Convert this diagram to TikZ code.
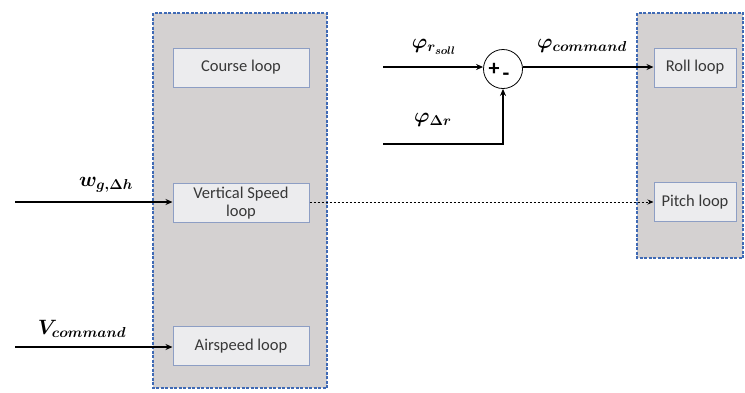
\documentclass[tikz,border=0pt]{standalone}
\usepackage{fontspec}
\usepackage{amsmath,bm}
\setsansfont{Carlito}
\usetikzlibrary{arrows.meta}
\definecolor{panelfill}{HTML}{D4D1D1}
\definecolor{panelborder}{HTML}{3F6AB5}
\definecolor{boxfill}{HTML}{ECECEE}
\definecolor{boxborder}{HTML}{8D9EC4}
\definecolor{txt}{HTML}{383838}
\tikzset{
  panel/.style={fill=panelfill, draw=panelborder, dash pattern=on 3pt off 1.5pt, line width=1.3pt},
  loopbox/.style={draw=boxborder, fill=boxfill, line width=1pt, minimum width=136pt, minimum height=39pt, font=\sffamily\fontsize{16.5}{18}\selectfont, text=txt, align=center, inner sep=1pt},
  smallbox/.style={loopbox, minimum width=82pt},
  sig/.style={line width=1.5pt, -{Stealth[length=7pt,width=6pt]}},
  lab/.style={font=\boldmath\fontsize{21}{22}\selectfont},
  signlab/.style={font=\sffamily\bfseries\fontsize{22}{22}\selectfont, inner sep=0pt}
}
\begin{document}
\begin{tikzpicture}[x=1pt,y=-1pt]
\useasboundingbox (0,0) rectangle (745,392);
\draw[panel] (153,13) rectangle (327,388);
\draw[panel] (637,13) rectangle (743,258);
\node[loopbox] (course) at (241,67.5) {Course loop};
\node[loopbox] (vs) at (241,203) {Vertical Speed\\loop};
\node[loopbox] (air) at (241,346) {Airspeed loop};
\node[smallbox] (roll) at (695,67.5) {Roll loop};
\node[smallbox] (pitch) at (695,202) {Pitch loop};
\node[draw, circle, minimum size=39pt, line width=0.8pt, fill=white, inner sep=0pt] (sum) at (503,69) {};
\node[signlab] (plus) at (494,69) {+};
\node[signlab] (minus) at (506,77) {-};
\coordinate (rin) at (383,67);
\coordinate (din) at (383,144);
\coordinate (wg) at (15,202);
\coordinate (vin) at (15,347);
\draw[sig] (rin) -- (rin -| sum.west);
\draw[sig] (din) -| (sum.south);
\draw[sig] (sum.east |- rin) -- (rin -| roll.west);
\draw[sig] (wg) -- (wg -| vs.west);
\draw[sig] (vin) -- (vin -| air.west);
\draw[line width=0.9pt, dash pattern=on 2.5pt off 1.5pt, -{Stealth[length=6pt,width=5pt]}] (vs.east |- wg) -- (wg -| pitch.west);
\node[lab] (l1) at (434,47) {$\bm{\varphi_{r_{soll}}}$};
\node[lab] (l2) at (433,120) {$\bm{\varphi_{\Delta r}}$};
\node[lab] (l3) at (582,46) {$\bm{\varphi_{command}}$};
\node[lab] (l4) at (106,185) {$\bm{w_{g,\Delta h}}$};
\node[lab] (l5) at (82,329) {$\bm{V_{command}}$};
\end{tikzpicture}
\end{document}
